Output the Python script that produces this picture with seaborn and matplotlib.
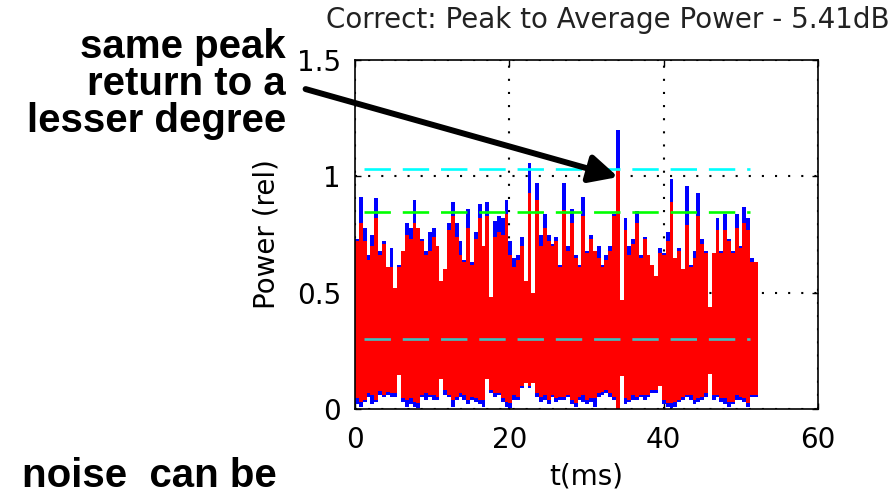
import numpy as np
import pandas as pd
import matplotlib
matplotlib.use("Agg")
import matplotlib.pyplot as plt
import seaborn as sns

# ---------------- data ----------------
t_end = 52.2  # ms, end of record
# red signal: upper / lower envelope per 0.5 ms bin
red_hi = [0.72, 0.80, 0.72, 0.64, 0.70, 0.82, 0.66, 0.71, 0.61, 0.61,
          0.52, 0.61, 0.68, 0.75, 0.73, 0.80, 0.78, 0.72, 0.66, 0.68,
          0.74, 0.70, 0.55, 0.60, 0.77, 0.83, 0.74, 0.66, 0.63, 0.78,
          0.62, 0.73, 0.82, 0.70, 0.83, 0.48, 0.74, 0.76, 0.75, 0.84,
          0.66, 0.61, 0.64, 0.70, 0.55, 0.93, 0.50, 0.90, 0.70, 0.78,
          0.72, 0.70, 0.72, 0.61, 0.855, 0.68, 0.80, 0.65, 0.61, 0.83,
          0.67, 0.73, 0.68, 0.65, 0.61, 0.64, 0.68, 0.83, 1.03, 0.47,
          0.77, 0.66, 0.71, 0.80, 0.65, 0.73, 0.66, 0.62, 0.57, 0.67,
          0.66, 0.72, 0.89, 0.65, 0.68, 0.60, 0.79, 0.61, 0.65, 0.83,
          0.71, 0.67, 0.44, 0.67, 0.77, 0.67, 0.77, 0.72, 0.67, 0.78,
          0.69, 0.80, 0.77, 0.63, 0.63]
red_lo = [0.046, 0.03, 0.04, 0.068, 0.06, 0.04, 0.078, 0.06, 0.075, 0.07,
          0.068, 0.144, 0.046, 0.04, 0.046, 0.03, 0.025, 0.06, 0.068, 0.06,
          0.06, 0.053, 0.13, 0.08, 0.06, 0.04, 0.053, 0.068, 0.06, 0.04,
          0.053, 0.046, 0.04, 0.04, 0.13, 0.082, 0.068, 0.07, 0.046, 0.032,
          0.025, 0.06, 0.053, 0.10, 0.11, 0.10, 0.11, 0.068, 0.053, 0.06,
          0.04, 0.06, 0.046, 0.05, 0.053, 0.06, 0.04, 0.025, 0.053, 0.06,
          0.04, 0.046, 0.046, 0.068, 0.075, 0.082, 0.068, 0.053, 0.0, 0.14,
          0.046, 0.04, 0.06, 0.053, 0.06, 0.06, 0.06, 0.082, 0.082, 0.10,
          0.04, 0.025, 0.025, 0.03, 0.04, 0.053, 0.06, 0.06, 0.04, 0.046,
          0.053, 0.068, 0.15, 0.06, 0.06, 0.046, 0.046, 0.032, 0.032, 0.06,
          0.053, 0.046, 0.025, 0.06, 0.06]
# blue signal: upper / lower envelope per bin
blue_hi = [0.73, 0.91, 0.78, 0.66, 0.75, 0.905, 0.68, 0.72, 0.61, 0.69,
           0.52, 0.62, 0.68, 0.80, 0.78, 0.90, 0.78, 0.73, 0.68, 0.76,
           0.78, 0.70, 0.55, 0.60, 0.80, 0.89, 0.80, 0.72, 0.64, 0.86,
           0.63, 0.76, 0.88, 0.70, 0.89, 0.48, 0.81, 0.83, 0.82, 0.90,
           0.72, 0.65, 0.66, 0.74, 0.55, 1.056, 0.50, 0.97, 0.75, 0.84,
           0.75, 0.71, 0.74, 0.62, 0.97, 0.70, 0.86, 0.66, 0.62, 0.91,
           0.68, 0.75, 0.68, 0.70, 0.62, 0.66, 0.70, 0.84, 1.20, 0.47,
           0.82, 0.70, 0.73, 0.85, 0.66, 0.74, 0.66, 0.62, 0.57, 0.69,
           0.67, 0.76, 0.99, 0.65, 0.69, 0.60, 0.96, 0.62, 0.68, 0.93,
           0.73, 0.68, 0.44, 0.67, 0.82, 0.68, 0.84, 0.73, 0.68, 0.84,
           0.70, 0.87, 0.82, 0.65, 0.63]
blue_lo = [0.02, 0.01, 0.03, 0.05, 0.02, 0.03, 0.06, 0.05, 0.06, 0.05,
           0.05, 0.144, 0.03, 0.01, 0.02, 0.01, 0.005, 0.05, 0.04, 0.05,
           0.04, 0.04, 0.13, 0.06, 0.05, 0.01, 0.04, 0.05, 0.04, 0.02,
           0.04, 0.03, 0.02, 0.01, 0.13, 0.07, 0.05, 0.06, 0.03, 0.01,
           0.005, 0.04, 0.04, 0.09, 0.11, 0.09, 0.11, 0.05, 0.03, 0.04,
           0.02, 0.05, 0.03, 0.04, 0.04, 0.05, 0.02, 0.01, 0.04, 0.03,
           0.02, 0.03, 0.01, 0.05, 0.06, 0.07, 0.05, 0.04, 0.0, 0.14,
           0.02, 0.03, 0.04, 0.04, 0.05, 0.04, 0.05, 0.07, 0.07, 0.10,
           0.02, 0.01, 0.005, 0.01, 0.03, 0.04, 0.05, 0.04, 0.02, 0.03,
           0.04, 0.05, 0.15, 0.04, 0.05, 0.03, 0.02, 0.01, 0.02, 0.04,
           0.04, 0.03, 0.01, 0.05, 0.05]

# horizontal reference levels
peak_level = 1.03
mid_level = 0.847
avg_level = 0.30
ref_span = [1.2, 51.2]

x_ticks = [0, 20, 40, 60]
y_ticks = [0, 0.5, 1, 1.5]
y_ticklabels = ["0", "0.5", "1", "1.5"]
title = "Correct: Peak to Average Power - 5.41dB"
xlabel = "t(ms)"
ylabel = "Power (rel)"
note_lines = ["same peak", "return to a", "lesser degree"]
note_bottom = "noise  can be"

# ---------------- style ----------------
sns.set_theme(style="ticks")
plt.rcParams["font.family"] = ["DejaVu Sans"]
plt.rcParams["axes.edgecolor"] = "black"

W, H = 892, 498
fig = plt.figure(figsize=(W / 100, H / 100), dpi=100)
fig.patch.set_facecolor("white")
ax = fig.add_axes([355 / W, 1 - 409 / H, (818 - 355) / W, (409 - 60) / H])
ax.set_facecolor("white")

n = len(red_hi)
edges = np.linspace(0, t_end, n + 1)

def ext(v):
    return np.append(np.asarray(v, float), v[-1])

ax.fill_between(edges, ext(blue_lo), ext(blue_hi), step="post",
                color="#0000ff", linewidth=0, zorder=2)
ax.fill_between(edges, ext(red_lo), ext(red_hi), step="post",
                color="#ff0000", linewidth=0, zorder=3)

dash = (0, (10, 4.5))
for lvl, col in [(peak_level, "#00ffff"), (mid_level, "#00ff00"),
                 (avg_level, "#40c0c0")]:
    df = pd.DataFrame({"t": ref_span, "p": [lvl, lvl]})
    sns.lineplot(data=df, x="t", y="p", ax=ax, color=col, linewidth=1.9,
                 linestyle=dash, zorder=4)

ax.set_xlim(0, 60)
ax.set_ylim(0, 1.5)
ax.set_xticks(x_ticks)
ax.set_xticklabels([str(v) for v in x_ticks])
ax.set_yticks(y_ticks)
ax.set_yticklabels(y_ticklabels)
ax.set_axisbelow(True)
ax.grid(True, color="black", linestyle=(0, (1, 5.3)), linewidth=1.5)
ax.tick_params(direction="in", length=4, width=1, top=True, right=True,
               labelsize=20, colors="black", pad=10)
ax.tick_params(axis="x", pad=12)
for s in ax.spines.values():
    s.set_linewidth(1.2)
    s.set_color("black")
    s.set_zorder(6)

ax.set_xlabel(xlabel, fontsize=20, color="black", labelpad=6)
ax.set_ylabel(ylabel, fontsize=20, color="black", labelpad=12)

fig.text(608 / W, 1 - 20 / H, title, ha="center", va="center",
         fontsize=20, color="#222222")

note_font = ["Liberation Sans", "DejaVu Sans"]
for txt, yc in zip(note_lines, [47, 84, 121]):
    fig.text(286 / W, 1 - yc / H, txt, ha="right", va="center",
             fontsize=29, fontweight="bold", family=note_font, color="black")
fig.text(22 / W, 1 - 487 / H, note_bottom, ha="left", va="baseline",
         fontsize=29, fontweight="bold", family=note_font, color="black")

ax.annotate("", xy=(34.1, 0.997), xytext=(-6.4, 1.375), xycoords="data",
            textcoords="data", annotation_clip=False,
            arrowprops=dict(arrowstyle="-|>,head_length=0.85,head_width=0.42",
                            mutation_scale=20, lw=4.3, color="black",
                            shrinkA=0, shrinkB=0), zorder=7)

fig.savefig("out.png", dpi=100, facecolor="white")
